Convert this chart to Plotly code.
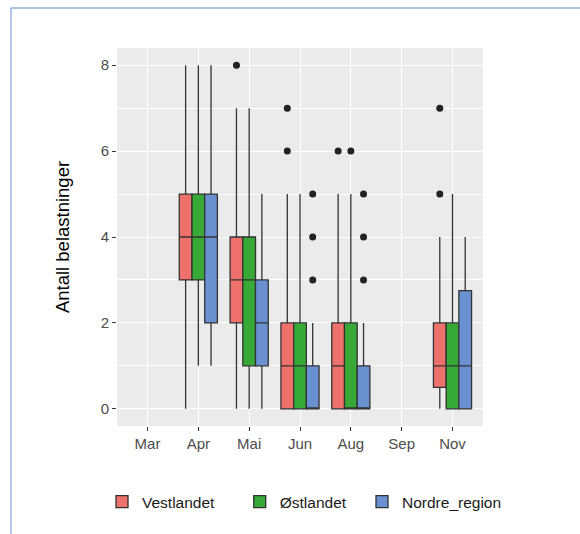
import plotly.graph_objects as go

# ---- data ----
months = ["Mar", "Apr", "Mai", "Jun", "Aug", "Sep", "Nov"]
box_months = ["Apr", "Mai", "Jun", "Aug", "Nov"]

vest_q1 = [3, 2, 0, 0, 0.5]
vest_med = [4, 3, 1, 1, 1]
vest_q3 = [5, 4, 2, 2, 2]
vest_lo = [0, 0, 0, 0, 0]
vest_hi = [8, 7, 5, 5, 4]
vest_out_x = ["Mai", "Jun", "Jun", "Aug", "Nov", "Nov"]
vest_out_y = [8, 7, 6, 6, 7, 5]

ost_q1 = [3, 1, 0, 0, 0]
ost_med = [4, 3, 1, 0, 1]
ost_q3 = [5, 4, 2, 2, 2]
ost_lo = [1, 0, 0, 0, 0]
ost_hi = [8, 7, 5, 5, 5]
ost_out_x = ["Aug"]
ost_out_y = [6]

nord_q1 = [2, 1, 0, 0, 0]
nord_med = [4, 2, 0, 0, 1]
nord_q3 = [5, 3, 1, 1, 2.75]
nord_lo = [1, 0, 0, 0, 0]
nord_hi = [8, 5, 2, 2, 4]
nord_out_x = ["Jun", "Jun", "Jun", "Aug", "Aug", "Aug"]
nord_out_y = [5, 4, 3, 5, 4, 3]

regions = ["Vestlandet", "Østlandet", "Nordre_region"]
colors = ["#EE716B", "#37A937", "#6990D1"]
legend_ids = ["legend", "legend2", "legend3"]
legend_x = [-0.041, 0.3353, 0.6694]

stats = [
    (vest_q1, vest_med, vest_q3, vest_lo, vest_hi, vest_out_x, vest_out_y),
    (ost_q1, ost_med, ost_q3, ost_lo, ost_hi, ost_out_x, ost_out_y),
    (nord_q1, nord_med, nord_q3, nord_lo, nord_hi, nord_out_x, nord_out_y),
]

fig = go.Figure()
for name, col, lg, (q1, med, q3, lo, hi, ox, oy) in zip(regions, colors, legend_ids, stats):
    fig.add_trace(go.Box(
        name=name, x=box_months, q1=q1, median=med, q3=q3,
        lowerfence=lo, upperfence=hi,
        fillcolor=col, line=dict(color="#333333", width=1.3),
        whiskerwidth=0, offsetgroup=name, boxpoints=False, legend=lg,
    ))
for name, col, (q1, med, q3, lo, hi, ox, oy) in zip(regions, colors, stats):
    fig.add_trace(go.Scatter(
        x=ox, y=oy, mode="markers", offsetgroup=name, showlegend=False,
        marker=dict(color="#222222", size=7),
    ))

font_family = "Liberation Sans, Arial, sans-serif"
legend_style = dict(orientation="h", xanchor="left", y=-0.201, yanchor="middle",
                    font=dict(size=15.5, color="#1A1A1A"), itemwidth=30,
                    bgcolor="rgba(0,0,0,0)")
fig.update_layout(
    width=580, height=534,
    paper_bgcolor="white", plot_bgcolor="#EBEBEB",
    margin=dict(l=117, r=97, t=48, b=108, autoexpand=False),
    boxmode="group", boxgap=0.25, boxgroupgap=0,
    scattermode="group", scattergap=0.25,
    font=dict(family=font_family, color="#4D4D4D", size=14),
    legend=dict(x=legend_x[0], **legend_style),
    legend2=dict(x=legend_x[1], **legend_style),
    legend3=dict(x=legend_x[2], **legend_style),
    xaxis=dict(type="category", categoryorder="array", categoryarray=months,
               range=[-0.6, 6.6], showgrid=True, gridcolor="white", gridwidth=1.2,
               ticks="outside", ticklen=4, tickcolor="#333333", zeroline=False,
               tickfont=dict(size=15, color="#4D4D4D")),
    yaxis=dict(range=[-0.4, 8.4], dtick=2, tick0=0, showgrid=True, gridcolor="white",
               gridwidth=1.2, zeroline=False, ticks="outside", ticklen=4,
               tickcolor="#333333", tickfont=dict(size=15, color="#4D4D4D"),
               minor=dict(dtick=1, showgrid=True, gridcolor="white", gridwidth=0.6),
               title=dict(text="Antall belastninger", standoff=26,
                          font=dict(size=18.5, color="#000000"))),
    shapes=[
        dict(type="line", xref="paper", yref="paper", x0=-0.29, x1=1.3, y0=1.106, y1=1.106,
             line=dict(color="#A9C4E4", width=2)),
        dict(type="line", xref="paper", yref="paper", x0=-0.2896, x1=-0.2896, y0=1.106, y1=-0.3,
             line=dict(color="#6A8FD0", width=1)),
    ],
)

fig.write_html("out.html", config={"displayModeBar": False},
               post_script="document.body.style.margin='0';")
